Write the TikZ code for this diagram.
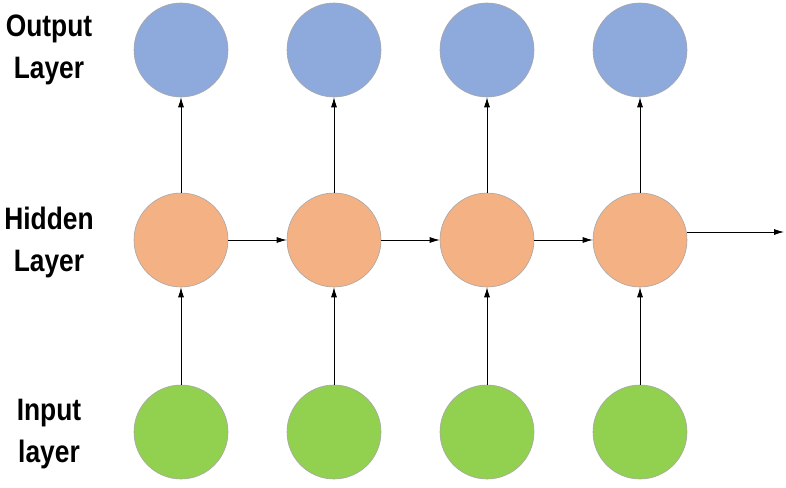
\documentclass[tikz,border=0pt]{standalone}
\usepackage{fontspec}
\setmainfont{Liberation Sans}
\usetikzlibrary{arrows.meta}
\definecolor{cblue}{HTML}{8EA9DB}
\definecolor{corange}{HTML}{F4B183}
\definecolor{cgreen}{HTML}{92D050}
\begin{document}
\begin{tikzpicture}[x=1pt,y=-1pt,
  neuron/.style={circle,draw=gray!70,line width=0.6pt,minimum size=94pt,inner sep=0pt},
  conn/.style={-{Latex[length=10pt,width=6pt]},line width=0.8pt},
  lbl/.style={font=\bfseries\fontsize{31}{42}\selectfont,align=center}]
\useasboundingbox (0,0) rectangle (786,487);
\foreach \i/\x in {1/181,2/334,3/487,4/640}{
  \node[neuron,fill=cblue] (o\i) at (\x,50) {};
  \node[neuron,fill=corange] (h\i) at (\x,240) {};
  \node[neuron,fill=cgreen] (n\i) at (\x,432) {};
  \draw[conn] (n\i) -- (h\i);
  \draw[conn] (h\i) -- (o\i);
}
\draw[conn] (h1) -- (h2);
\draw[conn] (h2) -- (h3);
\draw[conn] (h3) -- (h4);
\coordinate (end) at (784,232);
\draw[conn] (h4.east |- end) -- (end);
\node[lbl] (lo) at (49,50) {\scalebox{0.85}[1]{Output}\\\scalebox{0.85}[1]{Layer}};
\node[lbl] (lh) at (49,242) {\scalebox{0.85}[1]{Hidden}\\\scalebox{0.85}[1]{Layer}};
\node[lbl] (li) at (49,434) {\scalebox{0.85}[1]{Input}\\\scalebox{0.85}[1]{layer}};
\end{tikzpicture}
\end{document}
